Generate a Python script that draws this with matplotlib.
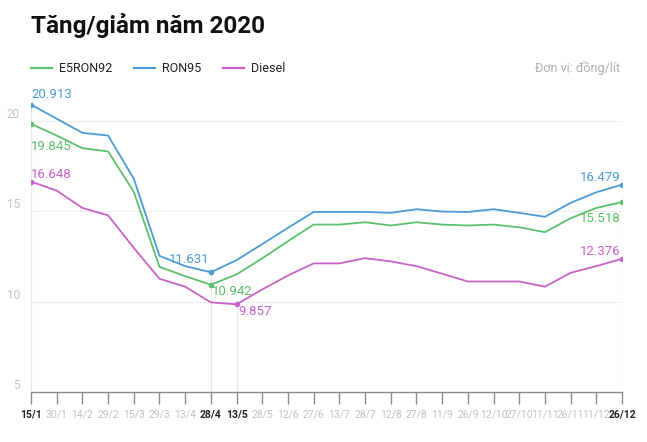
import matplotlib
matplotlib.use("Agg")
from matplotlib import pyplot as plt
from matplotlib.lines import Line2D
import matplotlib.transforms as mtransforms
import numpy as np

## Data ------------------------------------------------------------------
dates = ["15/1", "30/1", "14/2", "29/2", "15/3", "29/3", "13/4", "28/4",
         "13/5", "28/5", "12/6", "27/6", "13/7", "28/7", "12/8", "27/8",
         "11/9", "26/9", "12/10", "27/10", "11/11", "26/11", "11/12", "26/12"]
highlight = ["15/1", "28/4", "13/5", "26/12"]

ron95 = [20.913, 20.13, 19.35, 19.2, 16.81, 12.54, 11.97, 11.631, 12.3, 13.19,
         14.09, 14.97, 14.97, 14.97, 14.92, 15.12, 14.99, 14.97, 15.12, 14.92,
         14.70, 15.47, 16.06, 16.479]
e5ron92 = [19.845, 19.2, 18.5, 18.32, 16.08, 11.93, 11.41, 10.942, 11.51, 12.4,
           13.35, 14.27, 14.27, 14.4, 14.22, 14.4, 14.27, 14.22, 14.27, 14.12,
           13.85, 14.62, 15.19, 15.518]
diesel = [16.648, 16.15, 15.19, 14.78, 12.98, 11.27, 10.83, 9.96, 9.857, 10.68,
          11.45, 12.12, 12.12, 12.41, 12.23, 11.97, 11.55, 11.12, 11.12, 11.12,
          10.83, 11.6, 11.97, 12.376]
yticks = [5, 10, 15, 20]

## Style -----------------------------------------------------------------
plt.rcParams["font.family"] = ["Roboto", "DejaVu Sans"]
c_green = "#5cc06c"
c_blue = "#4c9bd4"
c_purple = "#c862c8"
c_gray = "#c2c2c2"
c_dark = "#222222"

fig = plt.figure(figsize=(6.47, 4.42), dpi=100)
ax = fig.add_axes([31 / 647, 50 / 442, 591 / 647, 298 / 442])

x = np.arange(len(dates))
ax.set_xlim(0, len(dates) - 1)
ax.set_ylim(5, 21.5)

# grid
for v in yticks[1:]:
    ax.axhline(v, color="#eeeeee", lw=0.8, zorder=0)
idx = {d: i for i, d in enumerate(dates)}
for d, top in zip(highlight, [ron95[0], ron95[7], diesel[8], ron95[-1]]):
    ax.plot([idx[d], idx[d]], [5, top], color="#e8e8e8", lw=0.8, zorder=0)

# lines
series = [(e5ron92, c_green, "E5RON92"), (ron95, c_blue, "RON95"),
          (diesel, c_purple, "Diesel")]
for vals, col, name in series:
    ax.plot(x, vals, color=col, lw=1.3, zorder=3)

# marker points
pts = [(0, ron95, c_blue), (0, e5ron92, c_green), (0, diesel, c_purple),
       (7, ron95, c_blue), (7, e5ron92, c_green), (8, diesel, c_purple),
       (23, ron95, c_blue), (23, e5ron92, c_green), (23, diesel, c_purple)]
for i, vals, col in pts:
    ax.plot(x[i], vals[i], "o", color=col, ms=3, zorder=4)

# value labels
def lab(i, vals, col, dx, dy, ha):
    ax.annotate(f"{vals[i]:.3f}", (x[i], vals[i]), xytext=(dx, dy),
                textcoords="offset points", ha=ha, va="center",
                color=col, fontsize=9.5)

lab(0, ron95, c_blue, 0, 7, "left")
lab(0, e5ron92, c_green, 0, -16, "left")
lab(0, diesel, c_purple, 0, 5, "left")
lab(7, ron95, c_blue, -1, 9, "right")
lab(7, e5ron92, c_green, 1, -5, "left")
lab(8, diesel, c_purple, 1, -5, "left")
lab(23, ron95, c_blue, -1, 5, "right")
lab(23, e5ron92, c_green, -1, -12, "right")
lab(23, diesel, c_purple, -1, 5, "right")

# axes styling
for s in ["top", "right", "left"]:
    ax.spines[s].set_visible(False)
ax.spines["bottom"].set_color("#8a8a8a")
ax.spines["bottom"].set_linewidth(1)
ax.set_xticks(x)
ax.set_xticklabels(dates)
ax.tick_params(axis="x", length=8.6, width=1, color="#8a8a8a", pad=4,
               labelsize=7.5)
for t in ax.get_xticklabels():
    if t.get_text() in highlight:
        t.set_color(c_dark)
        t.set_fontweight("bold")
    else:
        t.set_color(c_gray)
ax.set_yticks([])

trans = mtransforms.blended_transform_factory(fig.transFigure, ax.transData)
for v in yticks:
    ax.text(20 / 647, v, str(v), transform=trans, ha="right", va="bottom",
            color=c_gray, fontsize=8.5)

# title + legend
fig.text(31 / 647, (442 - 33) / 442, "Tăng/giảm năm 2020", fontsize=17.5,
         fontweight="bold", color="#111111", va="baseline", ha="left")

leg_y = (442 - 68.3) / 442
leg_x = [31, 134, 223]
for (vals, col, name), lx in zip(series, leg_x):
    fig.add_artist(Line2D([lx / 647, (lx + 21) / 647], [leg_y, leg_y],
                          color=col, lw=1.6, transform=fig.transFigure))
    fig.text((lx + 28) / 647, leg_y, name, fontsize=9, color=c_dark,
             va="center", ha="left")
fig.text(620 / 647, leg_y, "Đơn vị: đồng/lít", fontsize=9, color="#b0b0b0",
         va="center", ha="right")

fig.savefig("out.png", dpi=100)
